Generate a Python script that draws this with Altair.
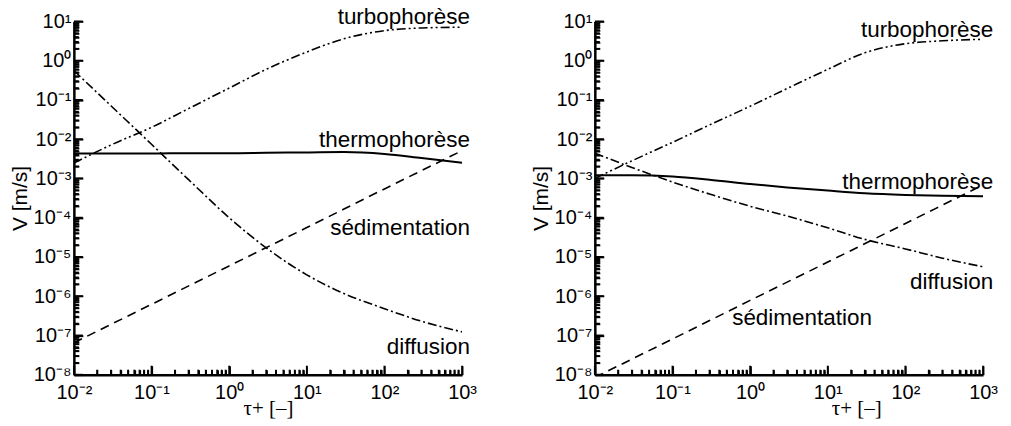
import altair as alt
import pandas as pd

# ---------------- data ----------------
tau = [0.01, 0.03, 0.1, 0.3, 1, 3, 10, 30, 100, 300, 1000]
sed_tau = [0.01, 0.1, 1, 10, 100, 1000]

left_turbo = [2.45e-3, 7.1e-3, 0.020, 0.060, 0.20, 0.60, 1.66, 3.6, 5.8, 6.8, 7.1]
left_thermo = [4.3e-3, 4.3e-3, 4.3e-3, 4.4e-3, 4.4e-3, 4.5e-3, 4.6e-3, 4.7e-3, 4.2e-3, 3.3e-3, 2.5e-3]
left_diffusion = [0.56, 0.071, 7.4e-3, 9.3e-4, 1.0e-4, 1.7e-5, 3.5e-6, 1.17e-6, 4.8e-7, 2.3e-7, 1.23e-7]
left_sed = [6.5e-8, 6.2e-7, 5.9e-6, 5.6e-5, 5.4e-4, 5.1e-3]

right_turbo = [1.0e-3, 2.8e-3, 8.3e-3, 0.023, 0.069, 0.195, 0.60, 1.58, 2.7, 3.2, 3.5]
right_thermo = [1.2e-3, 1.2e-3, 1.12e-3, 9.3e-4, 7.2e-4, 5.9e-4, 4.9e-4, 4.2e-4, 3.8e-4, 3.6e-4, 3.5e-4]
right_diffusion = [4.4e-3, 1.9e-3, 8.1e-4, 4.0e-4, 1.95e-4, 1.1e-4, 5.5e-5, 2.8e-5, 1.6e-5, 9.3e-6, 5.6e-6]
right_sed = [8.5e-9, 8.1e-8, 7.8e-7, 7.4e-6, 7.1e-5, 6.8e-4]

label_texts = ["turbophorèse", "thermophorèse", "sédimentation", "diffusion"]
left_label_x = [1260, 1260, 1260, 1260]
left_label_y = [12.6, 9.3e-3, 5.5e-5, 5.1e-8]
right_label_x = [1350, 1350, 37, 1350]
right_label_y = [5.9, 8.1e-4, 2.8e-7, 2.3e-6]

x_major = [0.01, 0.1, 1, 10, 100, 1000]
y_major = [1e-8, 1e-7, 1e-6, 1e-5, 1e-4, 1e-3, 1e-2, 1e-1, 1, 10]
x_sup = ["⁻²", "⁻¹", "⁰", "¹", "²", "³"]
y_sup = ["⁻⁸", "⁻⁷", "⁻⁶", "⁻⁵", "⁻⁴", "⁻³", "⁻²", "⁻¹", "⁰", "¹"]

x_minor = [k * 10.0 ** d for d in range(-2, 3) for k in range(2, 10)]
y_minor = [k * 10.0 ** d for d in range(-8, 1) for k in range(2, 10)]

W, H = 389, 354
FONT = "Liberation Sans"
X_LO, X_HI = 0.01, 1000
Y_LO, Y_HI = 1e-8, 10
X_DECADES, Y_DECADES = 5, 9
TICK_W = 1.8

xs = alt.Scale(type="log", domain=[X_LO, X_HI], nice=False)
ys = alt.Scale(type="log", domain=[Y_LO, Y_HI], nice=False)


def sup_expr(sups, offset):
    arr = "[" + ",".join("'" + s + "'" for s in sups) + "]"
    return "'10' + " + arr + "[round(log(datum.value)/LN10)+" + str(offset) + "]"


def tick_axis_x(vals, size):
    # a top axis pulled down onto the bottom edge: its ticks point into the plot
    return alt.Axis(orient="top", offset=-H, values=vals, tickSize=size, tickWidth=TICK_W,
                    tickColor="black", labels=False, domain=False, grid=False, title=None)


def tick_axis_y(vals, size):
    # a right axis pulled onto the left edge: its ticks point into the plot
    return alt.Axis(orient="right", offset=-W, values=vals, tickSize=size, tickWidth=TICK_W,
                    tickColor="black", labels=False, domain=False, grid=False, title=None)


def make_panel(turbo, thermo, diffusion, sed, lx, ly, title_x=None):
    x_axis_kw = dict(
        values=x_major, labelExpr=sup_expr(x_sup, 2), ticks=False, grid=False,
        domainColor="black", domainWidth=2.5, labelFont=FONT, labelFontSize=20,
        labelColor="black", labelPadding=8, labelFlush=False, labelOverlap=False,
        title="τ+ [–]", titleFont="Liberation Serif",
        titleFontSize=21, titleFontWeight="normal", titleColor="black",
        titleY=23, titleBaseline="top",
        zindex=2,
    )
    if title_x is not None:
        x_axis_kw["titleX"] = title_x
        x_axis_kw["titleAlign"] = "center"
    x_axis = alt.Axis(**x_axis_kw)
    y_axis = alt.Axis(
        values=y_major, labelExpr=sup_expr(y_sup, 8), ticks=False, grid=False,
        domainColor="black", domainWidth=2.5, labelFont=FONT, labelFontSize=20,
        labelColor="black", labelPadding=3, labelFlush=False, labelOverlap=False,
        title="V [m/s]", titleFont=FONT,
        titleFontSize=21, titleFontWeight="normal", titleColor="black", titlePadding=3,
        zindex=2,
    )

    def line(xv, yv, dash, sw, xa=None, ya=None):
        df = pd.DataFrame({"tau": xv, "v": yv})
        kw = dict(color="black", strokeWidth=sw, clip=True, interpolate="monotone")
        if dash:
            kw["strokeDash"] = dash
        return alt.Chart(df).mark_line(**kw).encode(
            x=alt.X("tau:Q", scale=xs, axis=xa),
            y=alt.Y("v:Q", scale=ys, axis=ya),
        )

    layers = [
        line(tau, thermo, None, 2.0, x_axis, y_axis),
        line(tau, turbo, [9, 3, 2, 3, 2, 3], 1.6, tick_axis_x(x_major, 9), tick_axis_y(y_major, 9)),
        line(tau, diffusion, [9, 3, 2, 3], 1.6, tick_axis_x(x_minor, 5), tick_axis_y(y_minor, 5)),
        line(sed_tau, sed, [9, 6], 1.6),
    ]

    # inward tick marks also drawn as short rules (length in pixels converted to the log scale)
    def xticks(vals, px):
        f = 10 ** (px / (H / Y_DECADES))
        df = pd.DataFrame({"tau": vals, "v": [Y_LO] * len(vals), "v2": [Y_LO * f] * len(vals)})
        return alt.Chart(df).mark_rule(color="black", strokeWidth=TICK_W).encode(
            x=alt.X("tau:Q", scale=xs, axis=None), y=alt.Y("v:Q", scale=ys, axis=None), y2="v2:Q")

    def yticks(vals, px):
        f = 10 ** (px / (W / X_DECADES))
        df = pd.DataFrame({"v": vals, "tau": [X_LO] * len(vals), "tau2": [X_LO * f] * len(vals)})
        return alt.Chart(df).mark_rule(color="black", strokeWidth=TICK_W).encode(
            y=alt.Y("v:Q", scale=ys, axis=None), x=alt.X("tau:Q", scale=xs, axis=None), x2="tau2:Q")

    layers += [xticks(x_major, 9), xticks(x_minor, 5), yticks(y_major, 9), yticks(y_minor, 5)]

    lab = pd.DataFrame({"tau": lx, "v": ly, "text": label_texts})
    layers.append(
        alt.Chart(lab).mark_text(align="right", baseline="middle", font=FONT, fontSize=22.5, color="black").encode(
            x=alt.X("tau:Q", scale=xs, axis=None), y=alt.Y("v:Q", scale=ys, axis=None), text="text:N")
    )
    return (alt.layer(*layers)
            .resolve_scale(x="shared", y="shared")
            .resolve_axis(x="independent", y="independent")
            .properties(width=W, height=H))


left = make_panel(left_turbo, left_thermo, left_diffusion, left_sed, left_label_x, left_label_y)
right = make_panel(right_turbo, right_thermo, right_diffusion, right_sed, right_label_x, right_label_y, title_x=262)

chart = alt.hconcat(left, right, spacing=53).properties(
    padding={"left": 1, "top": -2, "right": 5, "bottom": 5},
    background="white",
).configure_view(stroke=None)

chart.save("out.html", embed_options={"renderer": "svg", "actions": False})
